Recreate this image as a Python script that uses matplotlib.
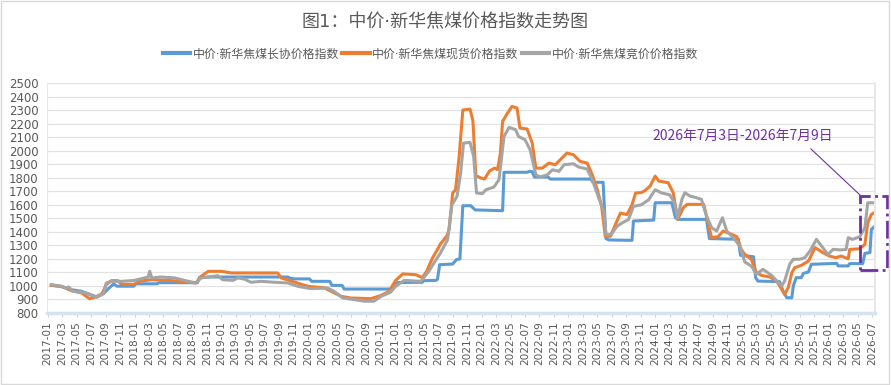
import matplotlib
matplotlib.use("Agg")
import matplotlib.pyplot as plt
from matplotlib.patches import Rectangle
from matplotlib.lines import Line2D

plt.rcParams['font.family'] = ['Noto Sans CJK SC', 'DejaVu Sans']
# narrow middle dot comes from DejaVu, CJK glyphs from Noto
dot_fonts = ['DejaVu Sans', 'Noto Sans CJK SC']

# x = months since 2017-01 (fractional)
blue_m = [0.5, 1.9, 3.3, 4.7, 6.1, 6.8, 7.7, 8.4, 9.1, 9.6, 11.9, 12.2, 15.1, 15.4, 20.7, 21.0,
          22.5, 33.2, 33.5, 34.1, 36.2, 36.5, 39.0, 39.3, 40.7, 41.0, 47.7, 47.9, 48.4, 51.8,
          52.0, 53.7, 53.9, 54.2, 56.0, 56.5, 57.0, 57.4, 58.5, 59.1, 62.9, 63.1, 66.3, 66.6,
          67.0, 67.3, 69.2, 69.5, 75.1, 75.4, 76.8, 77.2, 77.6, 80.8, 81.0, 83.8, 84.0, 86.3,
          86.8, 87.2, 91.1, 91.5, 95.5, 95.8, 97.6, 97.9, 98.2, 101.2, 101.7, 102.2, 102.9,
          103.1, 103.5, 104.2, 104.5, 105.2, 105.6, 109.1, 109.3, 110.7, 110.9, 112.7, 113.0,
          113.7, 113.9, 114.3]
blue_v = [1005, 995, 972, 960, 932, 918, 943, 980, 1014, 998, 998, 1016, 1016, 1024, 1024, 1063,
          1066, 1066, 1058, 1052, 1052, 1034, 1034, 1004, 1004, 977, 977, 997, 1025, 1027,
          1039, 1041, 1050, 1157, 1162, 1194, 1200, 1593, 1593, 1562, 1556, 1840, 1840, 1847,
          1845, 1805, 1805, 1790, 1790, 1766, 1766, 1350, 1340, 1337, 1480, 1487, 1615, 1615,
          1505, 1492, 1492, 1350, 1345, 1226, 1216, 1061, 1036, 1032, 960, 913, 913,
          1000, 1061, 1061, 1093, 1103, 1160, 1167, 1148, 1148, 1165, 1165, 1241,
          1246, 1418, 1438]

orange_m = [0.5, 1.9, 3.3, 4.7, 5.8, 6.8, 7.5, 8.1, 8.8, 9.7, 10.2, 12.0, 12.5, 14.3, 16.6, 18.5,
            20.5, 21.2, 22.2, 24.0, 25.4, 31.8, 32.3, 34.1, 36.0, 38.3, 39.2, 40.6, 41.9, 44.7,
            46.1, 47.2, 48.1, 49.1, 50.9, 51.8, 52.4, 53.2, 53.9, 54.3, 55.2, 55.5, 56.0, 56.4,
            56.9, 57.4, 58.4, 58.8, 59.2, 59.9, 60.4, 61.1, 61.8, 62.2, 62.6, 62.9, 63.5, 64.2,
            64.9, 65.3, 66.3, 67.0, 67.5, 68.4, 69.3, 70.2, 71.1, 71.8, 72.7, 73.6, 74.6, 75.3,
            76.0, 76.6, 77.1, 77.8, 78.5, 79.2, 80.1, 80.8, 81.3, 82.1, 82.6, 83.3, 84.0, 84.5,
            85.8, 86.5, 87.1, 87.9, 88.4, 90.7, 91.1, 91.8, 92.7, 93.4, 94.6, 95.3, 95.9, 96.4,
            97.3, 98.0, 98.7, 99.9, 100.8, 101.5, 101.9, 102.4, 102.9, 103.3, 104.2, 105.2,
            106.1, 106.5, 107.2, 108.1, 109.0, 109.7, 110.7, 110.9, 112.3, 113.0, 113.4, 113.9,
            114.3]
orange_v = [1005, 997, 965, 948, 905, 923, 943, 1010, 1039, 1039, 1012, 1012, 1034, 1046, 1041, 1034,
            1022, 1071, 1108, 1108, 1096, 1096, 1059, 1029, 997, 985, 960, 923, 911, 906,
            930, 960, 1040, 1089, 1083, 1062, 1108, 1206, 1270, 1310, 1370, 1416, 1687, 1711,
            1958, 2300, 2307, 2220, 1815, 1798, 1790, 1850, 1871, 1860, 1980, 2216, 2270, 2327,
            2315, 2167, 2160, 2056, 1871, 1871, 1908, 1896, 1945, 1982, 1970, 1921, 1908, 1822,
            1711, 1588, 1367, 1367, 1453, 1539, 1527, 1600, 1687, 1690, 1705, 1738, 1812, 1775,
            1763, 1689, 1492, 1578, 1603, 1603, 1517, 1357, 1364, 1406, 1381, 1364, 1270, 1233,
            1197, 1098, 1078, 1065, 1036, 975, 938, 987, 1098, 1135, 1152, 1184,
            1283, 1270, 1246, 1221, 1209, 1221, 1201, 1270, 1275, 1307, 1467, 1529,
            1541]

gray_m = [0.5, 1.9, 2.6, 2.9, 3.5, 4.7, 5.6, 6.1, 6.8, 7.7, 8.1, 8.8, 10.2, 12.0, 13.0, 13.9,
          14.1, 14.4, 15.7, 17.6, 18.9, 20.5, 21.2, 22.2, 23.5, 24.2, 25.6, 26.3, 27.2, 28.1,
          29.5, 31.4, 33.2, 34.6, 36.4, 38.7, 39.6, 40.8, 42.4, 43.8, 45.1, 46.1, 47.4, 48.1,
          49.3, 51.6, 52.7, 53.4, 54.3, 55.3, 55.9, 56.6, 57.1, 57.5, 58.4, 58.9, 59.3, 60.1,
          60.6, 61.7, 62.4, 63.1, 63.8, 64.7, 65.1, 66.0, 66.7, 67.5, 68.1, 69.1, 69.8, 70.7,
          71.4, 72.7, 73.4, 74.6, 75.3, 76.2, 76.9, 77.2, 77.9, 78.7, 79.4, 80.3, 81.0, 82.1,
          83.1, 84.0, 84.9, 86.0, 86.7, 87.1, 87.7, 88.1, 88.8, 89.7, 90.4, 91.1, 91.8, 92.5,
          93.3, 93.9, 95.0, 95.7, 96.4, 97.3, 98.0, 98.9, 100.1, 100.6, 101.5, 101.9, 102.6,
          103.1, 104.0, 104.7, 105.4, 106.3, 107.0, 107.9, 108.6, 109.7, 110.4, 110.7, 111.3,
          112.3, 113.0, 113.4, 114.3]
gray_v = [1010, 997, 985, 992, 960, 953, 943, 928, 918, 943, 1022, 1034, 1034, 1041, 1054, 1066,
          1108, 1059, 1066, 1059, 1041, 1022, 1059, 1066, 1076, 1046, 1041, 1059, 1051, 1027,
          1034, 1027, 1022, 997, 980, 985, 960, 911, 899, 887, 887, 923, 953, 997,
          1041, 1034, 1108, 1169, 1243, 1342, 1600, 1662, 1834, 2056, 2061, 1958, 1687, 1682,
          1711, 1731, 1785, 2105, 2172, 2155, 2105, 2081, 2007, 1822, 1805, 1822, 1859, 1847,
          1896, 1903, 1879, 1864, 1785, 1650, 1551, 1379, 1379, 1440, 1465, 1490, 1588, 1600,
          1637, 1711, 1687, 1674, 1613, 1504, 1640, 1689, 1665, 1652, 1640, 1517, 1431, 1406,
          1504, 1406, 1344, 1295, 1177, 1147, 1086, 1123, 1078, 1049, 1000, 1036, 1160,
          1197, 1197, 1209, 1258, 1344, 1295, 1233, 1270, 1266, 1270, 1357, 1344,
          1364, 1431, 1615, 1615]

series_names = ['中价·新华焦煤长协价格指数', '中价·新华焦煤现货价格指数', '中价·新华焦煤竞价价格指数']
colors = ['#5B9BD5', '#ED7D31', '#A5A5A5']

tick_pos = list(range(0, 115, 2))
tick_labels = [f"{2017 + m // 12}-{m % 12 + 1:02d}" for m in tick_pos]

fig = plt.figure(figsize=(8.91, 3.85), dpi=100)
ax = fig.add_axes([47 / 891, 1 - 313 / 385, (875 - 47) / 891, (313 - 83) / 385])

for xs, ys, name, c in zip([blue_m, orange_m, gray_m], [blue_v, orange_v, gray_v], series_names, colors):
    ax.plot(xs, ys, color=c, lw=2.2, label=name, solid_joinstyle='round')

ax.set_xlim(-0.1, 114.4)
ax.set_ylim(800, 2500)
ax.set_yticks(range(800, 2501, 100))
ax.set_xticks(tick_pos)
ax.set_xticklabels(tick_labels, rotation=90, family=['DejaVu Sans'])
ax.tick_params(axis='y', length=0, pad=6, labelsize=8.5, labelcolor='#595959')
ax.tick_params(axis='x', length=3, color='#D0D0D0', pad=3, labelsize=7.6, labelcolor='#595959')
for lbl in ax.get_yticklabels():
    lbl.set_family(['DejaVu Sans'])
ax.grid(axis='y', color='#E3E3E3', lw=0.9)
ax.set_axisbelow(True)
ax.spines['top'].set_visible(False)
ax.spines['right'].set_color('#E8E8E8')
ax.spines['right'].set_linewidth(1.5)
ax.spines['left'].set_color('#E1EAF4')
ax.spines['bottom'].set_color('#D5E2F0')
ax.spines['bottom'].set_linewidth(2.5)

fig.text(0.5, 1 - 22 / 385, '图1：中价·新华焦煤价格指数走势图', ha='center', va='center',
         fontsize=13, color='#595959', family=dot_fonts)
handles = [Line2D([0], [0], color=c, lw=3) for c in colors]
fig.legend(handles, series_names, loc='center', bbox_to_anchor=(0.483, 1 - 54 / 385), ncol=3,
           frameon=False, handlelength=2.3, handletextpad=0.2, columnspacing=0.3,
           labelcolor='#595959', prop={'family': dot_fonts, 'size': 8.6})

# annotation for the latest week
purple = '#7030A0'
fig.text(743 / 891, 1 - 136 / 385, '2026年7月3日-2026年7月9日', ha='center', va='center',
         fontsize=10, color=purple)
fig.add_artist(Line2D([811 / 891, 860 / 891], [1 - 149 / 385, 1 - 195 / 385], color=purple, lw=0.8))
fig.add_artist(Rectangle((860 / 891, 1 - 270 / 385), 27 / 891, 74 / 385, fill=False,
                         edgecolor=purple, lw=2, linestyle='-.'))

fig.add_artist(Rectangle((0.001, 0.002), 0.997, 0.995, fill=False, edgecolor='#D9D9D9', lw=1))

fig.savefig('out.png', dpi=100)
